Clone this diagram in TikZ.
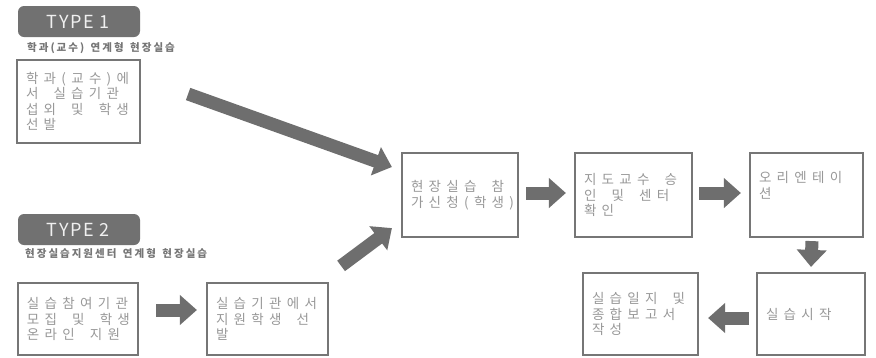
\documentclass[tikz,border=0pt]{standalone}
\usepackage{fontspec}
\setmainfont{Noto Sans CJK KR}
\usetikzlibrary{arrows.meta}
\newdimen\trackgap
\def\trkend{\trkend}
\def\trk#1{\trkloop#1\trkend}
\def\trkloop#1{\ifx#1\trkend\else#1\kern\trackgap\expandafter\trkloop\fi}
\newcommand{\boxtext}{\fontsize{13.5}{15.5}\selectfont\lineskiplimit=-20pt\relax\trackgap=5.3pt\relax\spaceskip=2pt\relax}
\newcommand{\subtext}{\bfseries\fontsize{10.5}{12}\selectfont\trackgap=2pt\relax\spaceskip=2.5pt\relax}
\newcommand{\tagtext}{\fontsize{18}{20}\selectfont\trackgap=1.5pt\relax\spaceskip=3pt\relax}
\definecolor{linegray}{HTML}{767676}
\definecolor{textgray}{HTML}{989898}
\definecolor{taggray}{HTML}{717171}
\definecolor{arrowgray}{HTML}{6E6E6E}
\tikzset{
	stepbox/.style={draw=linegray, line width=2.2pt, fill=white, inner xsep=9pt, align=left,
		text=textgray, font=\boxtext},
	tag/.style={fill=taggray, rounded corners=6pt, minimum width=122pt, minimum height=31pt,
		text=white!94!black, font=\tagtext},
	subtitle/.style={anchor=west, inner sep=0pt, text=linegray, font=\subtext},
	fat/.style={draw=arrowgray, line width=13pt, -{Triangle[length=17pt,width=29pt]}}
}

\begin{document}
\begin{tikzpicture}[x=1pt,y=-1pt]
	\useasboundingbox[fill=white] (0,0) rectangle (876,357);

	\node[tag] (tag1) at (79,21.5) {\trk{TYPE~1}};
	\node[subtitle] (sub1) at (27,48) {\trk{학과(교수)~연계형~현장실습}};
	\node[tag] (tag2) at (79,229.5) {\trk{TYPE~2}};
	\node[subtitle] (sub2) at (25,254) {\trk{현장실습지원센터~연계형~현장실습}};

	\node[stepbox, minimum width=123pt, minimum height=83pt, text width=105pt] (contact) at (78.5,101.5)
		{\trk{학과(교수)에}\\\trk{서~실습기관}\\\trk{섭외~및~학생}\\\trk{선발}};
	\node[stepbox, minimum width=120pt, minimum height=72pt, text width=102pt] (recruit) at (78,319)
		{\trk{실습참여기관}\\\trk{모집~및~학생}\\\trk{온라인~지원}};
	\node[stepbox, minimum width=121pt, minimum height=72pt, text width=103pt] (select) at (267.5,319)
		{\trk{실습기관에서}\\\trk{지원학생~선}\\\trk{발}};
	\node[stepbox, minimum width=116pt, minimum height=84pt, text width=98pt] (apply) at (460,195)
		{\trk{현장실습~참}\\\trk{가신청(학생)}};
	\node[stepbox, minimum width=117pt, minimum height=84pt, text width=99pt] (approve) at (633.5,195)
		{\trk{지도교수~승}\\\trk{인~및~센터}\\\trk{확인}};
	\node[stepbox, minimum width=113pt, minimum height=84pt, text width=95pt] (orient) at (806.5,195)
		{\trk{오리엔테이}\\\trk{션}\\ \strut};
	\node[stepbox, minimum width=108pt, minimum height=82pt, text width=90pt] (start) at (811,314)
		{\trk{실습시작}};
	\node[stepbox, minimum width=115pt, minimum height=82pt, text width=97pt] (report) at (640.5,314)
		{\trk{실습일지~및}\\\trk{종합보고서}\\\trk{작성}};

	\draw[fat] ([xshift=47pt,yshift=7.5pt]contact.east) -- ([xshift=-9pt,yshift=28pt]apply.west);
	\draw[fat] ([xshift=12pt,yshift=16pt]select.north east) -- ([xshift=-9pt,yshift=10pt]apply.south west);
	\draw[fat] ([xshift=17pt,yshift=9pt]recruit.east) -- ([xshift=-9pt,yshift=9pt]select.west);
	\draw[fat] ([xshift=7pt,yshift=2pt]apply.east) -- ([xshift=-8pt,yshift=2pt]approve.west);
	\draw[fat] ([xshift=6pt,yshift=2pt]approve.east) -- ([xshift=-8pt,yshift=2pt]orient.west);
	\draw[fat] ([xshift=5.5pt,yshift=-3pt]orient.south) -- ([yshift=5pt]start.north);
	\draw[fat] ([xshift=-7pt,yshift=-4pt]start.west) -- ([xshift=9pt,yshift=-4pt]report.east);
\end{tikzpicture}
\end{document}
